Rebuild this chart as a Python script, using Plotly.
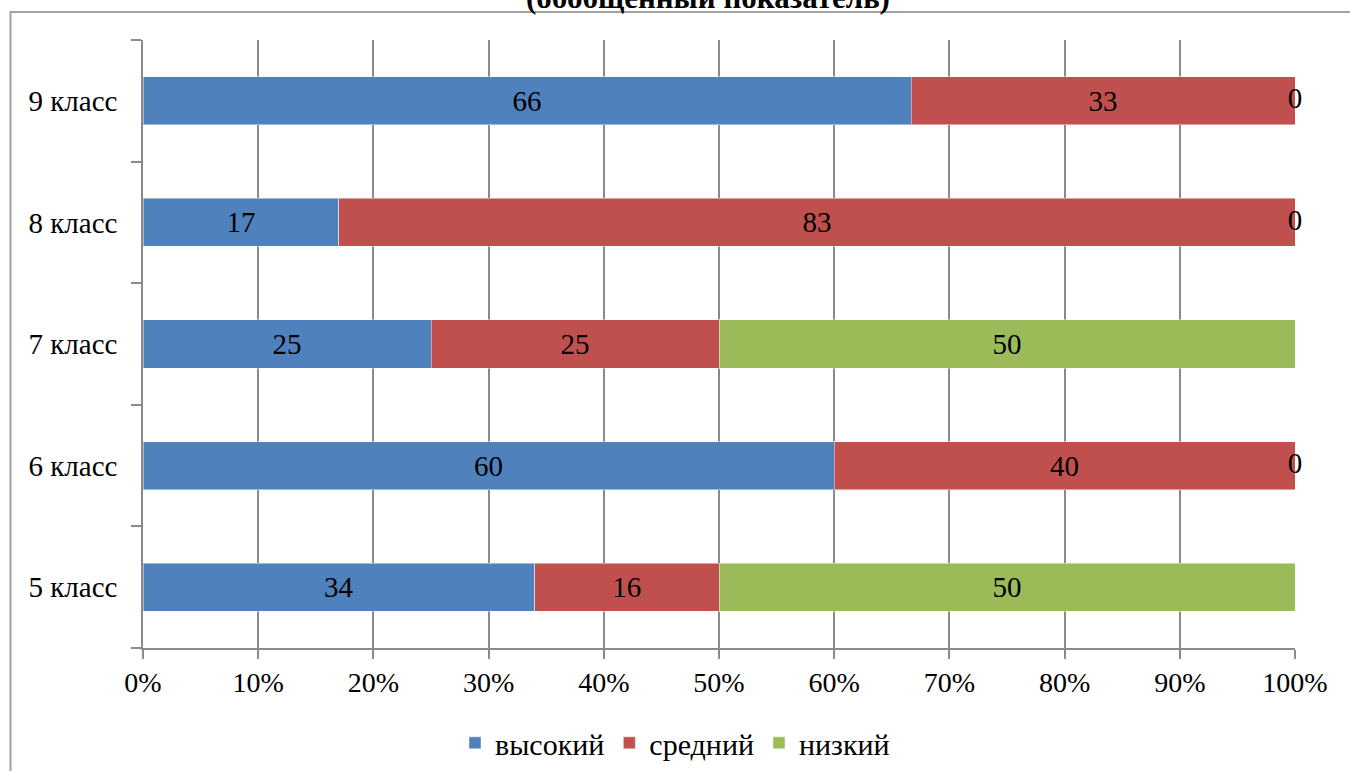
import plotly.graph_objects as go

categories = ["5 класс", "6 класс", "7 класс", "8 класс", "9 класс"]
high = [34, 60, 25, 17, 66]
mid = [16, 40, 25, 83, 33]
low = [50, 0, 50, 0, 0]
series_names = ["высокий", "средний", "низкий"]
colors = ["#4F81BD", "#C0504D", "#9BBB59"]
x_ticks = [0, 10, 20, 30, 40, 50, 60, 70, 80, 90, 100]
title_text = "(обобщенный показатель)"

FONT = "Liberation Serif"
FS_LABEL = 29
FS_X = 28
FS_Y = 29
FS_LEG = 30

fig = go.Figure()
series = [high, mid, low]
for name, vals, col in zip(series_names, series, colors):
    fig.add_trace(go.Bar(
        y=categories, x=vals, name=name, orientation="h",
        marker=dict(color=col, line=dict(color="rgba(255,255,255,0.45)", width=1)),
        text=[str(v) if v != 0 else "" for v in vals],
        textposition="inside", insidetextanchor="middle",
        textfont=dict(family=FONT, size=FS_LABEL, color="black"),
        constraintext="none",
    ))

# labels for zero-valued segments, placed at their normalized stacked position
zx, zy, zt = [], [], []
for i, cat in enumerate(categories):
    tot = sum(s[i] for s in series)
    cum = 0
    for s in series:
        if s[i] == 0:
            zx.append(cum / tot * 100)
            zy.append(cat)
            zt.append("0")
        cum += s[i]
fig.add_trace(go.Scatter(
    x=zx, y=zy, text=zt, mode="text", showlegend=False,
    textfont=dict(family=FONT, size=FS_LABEL, color="black"),
    textposition="middle center", cliponaxis=False, hoverinfo="skip",
))

fig.update_layout(
    template="none",
    barmode="stack", barnorm="percent", bargap=0.605,
    width=1350, height=771,
    margin=dict(l=143, r=55, t=40, b=123, autoexpand=False),
    paper_bgcolor="white", plot_bgcolor="white",
    font=dict(family=FONT, size=FS_X, color="black"),
    title=dict(text="<b>" + title_text + "</b>", x=708 / 1350, xanchor="center",
               y=1 - 8 / 771, yanchor="bottom", yref="container",
               font=dict(family=FONT, size=31, color="black")),
    legend=dict(orientation="h", xref="container", x=0.5, xanchor="center",
                y=-0.156, yanchor="middle",
                font=dict(family=FONT, size=FS_LEG), traceorder="normal",
                itemwidth=30),
    xaxis=dict(range=[0, 100], tickmode="array", tickvals=x_ticks,
               ticktext=[f"{v}%" for v in x_ticks], automargin=False,
               showgrid=True, gridcolor="#8a8a8a", gridwidth=1.5,
               showline=True, linecolor="#8a8a8a", linewidth=1.5,
               ticks="outside", ticklen=9, tickcolor="#8a8a8a", tickwidth=1.5,
               zeroline=False, tickfont=dict(family=FONT, size=FS_X)),
    yaxis=dict(showline=True, linecolor="#8a8a8a", linewidth=1.5, automargin=False,
               ticks="outside", tickson="boundaries", ticklen=10,
               tickcolor="#8a8a8a", tickwidth=1.5, showgrid=False,
               tickfont=dict(family=FONT, size=FS_Y), ticklabelstandoff=18),
    shapes=[dict(type="rect", xref="paper", yref="paper",
                 x0=(10.5 - 143) / 1152, x1=(1360 - 143) / 1152,
                 y0=(648 - 790) / 608, y1=1 + (40 - 12) / 608,
                 line=dict(color="#a0a0a0", width=2), layer="below")],
)

fig.write_html("out.html", config={"displayModeBar": False},
               post_script="document.body.style.margin='0';")
